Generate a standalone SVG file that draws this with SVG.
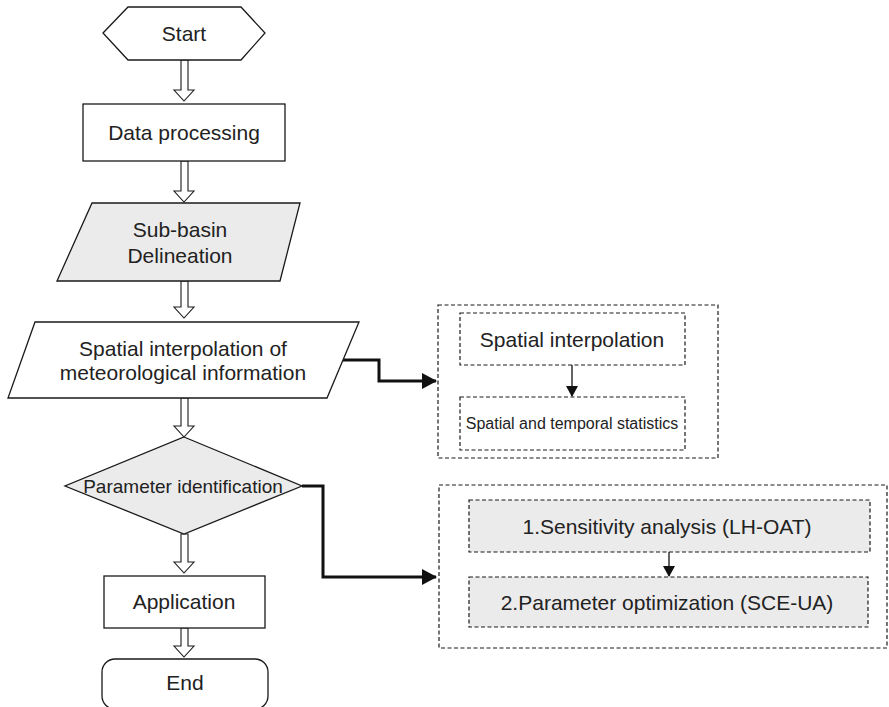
<svg xmlns="http://www.w3.org/2000/svg" width="889" height="707" viewBox="0 0 889 707">
<defs>
<style>
.shape{stroke:#1a1a1a;stroke-width:1.3;fill:#ffffff}
.gray{fill:#ebebeb}
.dash{fill:none;stroke:#1a1a1a;stroke-width:1.2;stroke-dasharray:4 2.5}
.dashg{fill:#ebebeb;stroke:#1a1a1a;stroke-width:1.2;stroke-dasharray:4 2.5}
.hollow{fill:#ffffff;stroke:#1a1a1a;stroke-width:1.1}
.bold{fill:none;stroke:#111;stroke-width:3}
.thin{fill:none;stroke:#111;stroke-width:1.3}
text{font-family:"Liberation Sans",Arial,sans-serif;fill:#222;text-anchor:middle}
.t21{font-size:21px}
.t19{font-size:19px}
.t16{font-size:16px}
</style>
<marker id="bighead" markerWidth="16" markerHeight="16" refX="14" refY="8" orient="auto" markerUnits="userSpaceOnUse">
<path d="M0,0 L15,8 L0,16 Z" fill="#111"/>
</marker>
<marker id="smallhead" markerWidth="12" markerHeight="12" refX="10" refY="6" orient="auto" markerUnits="userSpaceOnUse">
<path d="M0,0 L11,6 L0,12 Z" fill="#111"/>
</marker>
</defs>

<g id="connectors">
<path class="hollow" d="M181,60 L188,60 L188,90 L194,90 L184,101 L174,90 L181,90 Z"/>
<path class="hollow" d="M181,161 L188,161 L188,191 L194,191 L184,202 L174,191 L181,191 Z"/>
<path class="hollow" d="M181,281 L188,281 L188,307 L194,307 L184,318 L174,307 L181,307 Z"/>
<path class="hollow" d="M181,398 L188,398 L188,426 L194,426 L184,437 L174,426 L181,426 Z"/>
<path class="hollow" d="M181,534 L188,534 L188,562 L194,562 L184,573 L174,562 L181,562 Z"/>
<path class="hollow" d="M181,628 L188,628 L188,646 L194,646 L184,657 L174,646 L181,646 Z"/>
<path class="bold" d="M343,360 L379,360 L379,381 L436,381" marker-end="url(#bighead)"/>
<path class="bold" d="M302,486 L323,486 L323,577 L436,577" marker-end="url(#bighead)"/>
<path class="thin" d="M572,365 L572,396" marker-end="url(#smallhead)"/>
<path class="thin" d="M669,552 L669,576" marker-end="url(#smallhead)"/>
</g>

<g id="start">
<polygon class="shape" points="103,33 128,7 241,7 265,33 241,60 128,60"/>
<text class="t21" x="184" y="41">Start</text>
</g>

<g id="data-processing">
<rect class="shape" x="83" y="104" width="202" height="57"/>
<text class="t21" x="184" y="140">Data processing</text>
</g>

<g id="sub-basin">
<polygon class="shape gray" points="92,203 300,203 280,281 57,281"/>
<text class="t21" x="180" y="237">Sub-basin</text>
<text class="t21" x="180" y="263">Delineation</text>
</g>

<g id="spatial-interp-main">
<polygon class="shape" points="35,322 359,322 327,398 8,398"/>
<text class="t21" x="183" y="356">Spatial interpolation of</text>
<text class="t21" x="183" y="380">meteorological information</text>
</g>

<g id="param-ident">
<polygon class="shape gray" points="184,437 302,486 184,534 65,486"/>
<text class="t19" x="183" y="493">Parameter identification</text>
</g>

<g id="application">
<rect class="shape" x="104" y="576" width="161" height="52"/>
<text class="t21" x="184" y="609">Application</text>
</g>

<g id="end">
<rect class="shape" x="102" y="659" width="166" height="50" rx="13" ry="13"/>
<text class="t21" x="185" y="690">End</text>
</g>

<g id="group-interp">
<rect class="dash" x="438" y="305" width="280" height="153"/>
</g>
<g id="spatial-interp">
<rect class="dash" x="460" y="313" width="225" height="52"/>
<text class="t21" x="572" y="347">Spatial interpolation</text>
</g>
<g id="spatial-stats">
<rect class="dash" x="460" y="397" width="225" height="53"/>
<text class="t16" x="572" y="429">Spatial and temporal statistics</text>
</g>

<g id="group-param">
<rect class="dash" x="439" y="485" width="448" height="163"/>
</g>
<g id="sensitivity">
<rect class="dashg" x="469" y="500" width="401" height="52"/>
<text class="t21" x="667" y="534">1.Sensitivity analysis (LH-OAT)</text>
</g>
<g id="optimization">
<rect class="dashg" x="469" y="577" width="399" height="50"/>
<text class="t21" x="667" y="610">2.Parameter optimization (SCE-UA)</text>
</g>
</svg>
